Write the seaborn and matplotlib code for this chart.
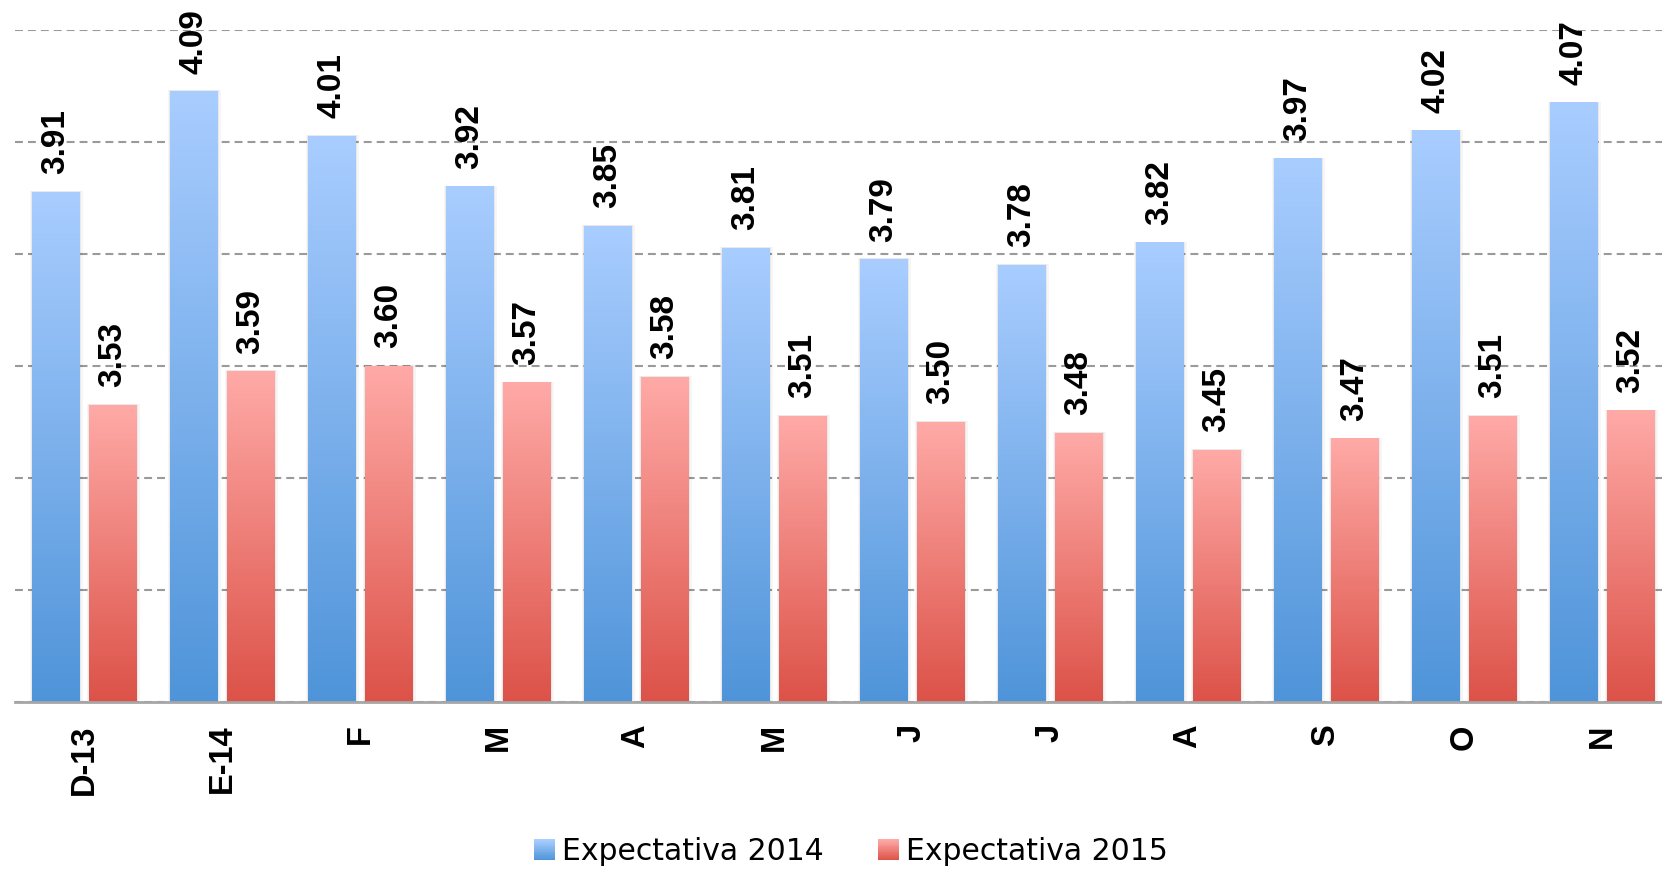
import numpy as np
import pandas as pd
import matplotlib
matplotlib.use("Agg")
import matplotlib.pyplot as plt
import seaborn as sns
from matplotlib.colors import LinearSegmentedColormap
from matplotlib.legend_handler import HandlerBase
from matplotlib.patches import Rectangle, Patch

# ---- data ----
categories = ["D-13", "E-14", "F", "M", "A", "M", "J", "J", "A", "S", "O", "N"]
exp_2014 = [3.91, 4.09, 4.01, 3.92, 3.85, 3.81, 3.79, 3.78, 3.82, 3.97, 4.02, 4.07]
exp_2015 = [3.53, 3.59, 3.60, 3.57, 3.58, 3.51, 3.50, 3.48, 3.45, 3.47, 3.51, 3.52]
series_names = ["Expectativa 2014", "Expectativa 2015"]
y_ticks = [3.0, 3.2, 3.4, 3.6, 3.8, 4.0, 4.2]

# ---- style ----
blue_top, blue_bot = "#A9CDFF", "#4F94D9"
red_top, red_bot = "#FFAAA7", "#DC5248"
cmap_b = LinearSegmentedColormap.from_list("b", [blue_bot, blue_top])
cmap_r = LinearSegmentedColormap.from_list("r", [red_bot, red_top])

sns.set_theme(style="white")
plt.rcParams["font.family"] = ["DejaVu Sans"]
plt.rcParams["text.color"] = "black"
plt.rcParams["xtick.color"] = "black"

df = pd.DataFrame({
    "pos": list(range(len(categories))) * 2,
    "value": exp_2014 + exp_2015,
    "serie": [series_names[0]] * len(categories) + [series_names[1]] * len(categories),
})

fig = plt.figure(figsize=(16.62, 8.71), dpi=100)
ax = fig.add_axes([15 / 1662, 169 / 871, 1656 / 1662, 672 / 871])

sns.barplot(data=df, x="pos", y="value", hue="serie", hue_order=series_names,
            palette=[blue_bot, red_bot], width=0.826, gap=0.175, errorbar=None,
            legend=False, ax=ax)

ymin, ymax = y_ticks[0], y_ticks[-1]
ax.set_ylim(ymin, ymax)
xlim = ax.get_xlim()

grad = np.linspace(0, 1, 256).reshape(-1, 1)
bars = [p for p in ax.patches if isinstance(p, Rectangle)]
for i, p in enumerate(bars):
    x0 = p.get_x()
    w = p.get_width()
    top = p.get_y() + p.get_height()
    cmap = cmap_b if i < len(categories) else cmap_r
    # soft shadow
    for k, a in [(0.04, 0.035), (0.022, 0.05)]:
        ax.add_patch(Rectangle((x0 - k * 0.3, ymin), w + k, top - ymin + 0.002,
                               facecolor="black", alpha=a, edgecolor="none", zorder=1.5))
    ax.imshow(grad, extent=[x0, x0 + w, ymin, top], cmap=cmap, aspect="auto",
              origin="lower", zorder=2, interpolation="bicubic")
    p.set_visible(False)
    ax.annotate(f"{top:.2f}", xy=(x0 + w / 2, top), xytext=(0, 18),
                textcoords="offset pixels", rotation=90, ha="center", va="bottom",
                fontsize=24, fontweight="bold", family="Liberation Sans",
                color="black", annotation_clip=False)

ax.set_xlim(xlim)
ax.set_yticks(y_ticks)
ax.tick_params(axis="y", length=0, labelleft=False)
ax.yaxis.grid(True, color="#9A9A9A", linestyle=(0, (3.8, 2.4)), linewidth=1.5)
ax.set_axisbelow(True)
for s in ["left", "right", "top"]:
    ax.spines[s].set_visible(False)
ax.spines["bottom"].set_color("#A6A6A6")
ax.spines["bottom"].set_linewidth(2)
ax.spines["bottom"].set_zorder(3)

ax.set_xticks(range(len(categories)))
ax.set_xticklabels(categories, rotation=90, fontsize=23.5, fontweight="bold",
                   family="Liberation Sans", color="black")
ax.tick_params(axis="x", length=0, pad=16)
ax.set_xlabel("")
ax.set_ylabel("")


class GradHandler(HandlerBase):
    def __init__(self, cmap):
        super().__init__()
        self.cmap = cmap

    def create_artists(self, legend, orig_handle, xdescent, ydescent, width,
                       height, fontsize, trans):
        n = 24
        size = min(width, height)
        x0 = -xdescent + (width - size) / 2
        y0 = -ydescent + (height - size) / 2
        arts = []
        for j in range(n):
            arts.append(Rectangle((x0, y0 + size * j / n), size, size / n + 0.3,
                                  facecolor=self.cmap(j / (n - 1)), edgecolor="none",
                                  transform=trans))
        return arts


h1 = Patch(label=series_names[0])
h2 = Patch(label=series_names[1])
fig.legend(handles=[h1, h2], labels=series_names,
           handler_map={h1: GradHandler(cmap_b), h2: GradHandler(cmap_r)},
           loc="center", bbox_to_anchor=(0.512, 0.022), ncol=2, frameon=False,
           fontsize=21.5, handlelength=0.7, handleheight=0.7, handletextpad=0.25,
           columnspacing=1.8, labelcolor="black")

fig.savefig("out.png", dpi=100)
